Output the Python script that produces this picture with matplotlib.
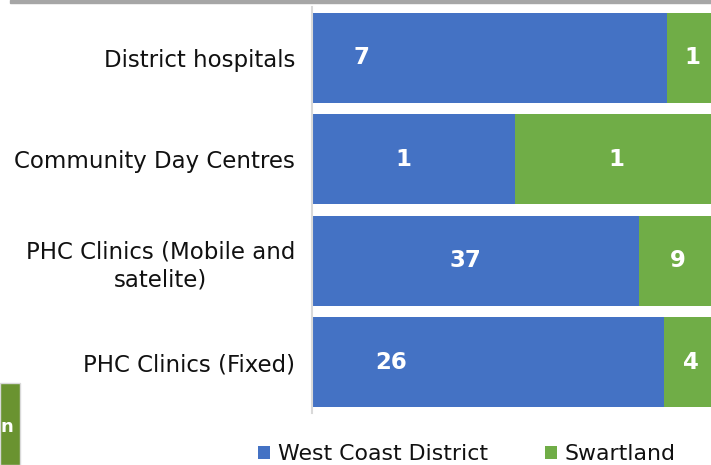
import numpy as np
import matplotlib.pyplot as plt
from matplotlib.patches import Rectangle

# Data
categories = ["PHC Clinics (Fixed)", "PHC Clinics (Mobile and\nsatelite)",
              "Community Day Centres", "District hospitals"]
west_coast = [26, 37, 1, 7]
swartland = [4, 9, 1, 1]
series_names = ["West Coast District", "Swartland"]

blue = "#4472C4"
green = "#70AD47"

fig = plt.figure(figsize=(7.11, 4.65), dpi=100)
ax = fig.add_axes([312 / 711, 1 - 413 / 465, 406 / 711, 406 / 465])

wc = np.array(west_coast, dtype=float)
sw = np.array(swartland, dtype=float)
tot = wc + sw
wc_p = wc / tot * 100
sw_p = sw / tot * 100

y = np.arange(len(categories))
b1 = ax.barh(y, wc_p, height=0.885, color=blue, label=series_names[0])
b2 = ax.barh(y, sw_p, left=wc_p, height=0.885, color=green, label=series_names[1])

# value labels (blue ones sit left of centre in the reference)
blue_pos = [19.5, 37.7, 22.4, 12.3]
for i in range(len(categories)):
    ax.text(blue_pos[i], y[i], str(west_coast[i]), color="white",
            fontsize=16.5, fontweight="bold", ha="center", va="center")
    ax.text(wc_p[i] + sw_p[i] / 2, y[i], str(swartland[i]), color="white",
            fontsize=16.5, fontweight="bold", ha="center", va="center")

ax.set_xlim(0, 100)
ax.set_ylim(-0.5, 3.5)
ax.set_yticks(y)
ax.set_yticklabels(categories, fontsize=16.5, color="#111111", linespacing=1.3)
for lbl in ax.get_yticklabels():
    lbl.set_multialignment("center")
ax.tick_params(axis="y", length=0, pad=12)
ax.set_xticks([])
for s in ["top", "right", "bottom"]:
    ax.spines[s].set_visible(False)
ax.spines["left"].set_color("#d9d9d9")
ax.spines["left"].set_linewidth(1.5)

fig.legend(handles=[b1, b2], loc="center", bbox_to_anchor=(467 / 711, 1 - 454 / 465),
           ncol=2, frameon=False, fontsize=15.8, handlelength=0.55, handleheight=0.55,
           handletextpad=0.35, columnspacing=2.6, labelcolor="#111111")

# decoration from the cropped slide
fig.patches.append(Rectangle((10 / 711, 1 - 3 / 465), 1, 3 / 465,
                             transform=fig.transFigure, color="#a6a6a6"))
fig.patches.append(Rectangle((0, 0), 20 / 711, 82 / 465,
                             transform=fig.transFigure, color="#6a9330",
                             ec="#d9d9d9", lw=1))
fig.text(0, 1 - 427 / 465, "n", color="white", fontsize=13,
         fontweight="bold", va="center", ha="left")

fig.savefig("out.png", dpi=100)
